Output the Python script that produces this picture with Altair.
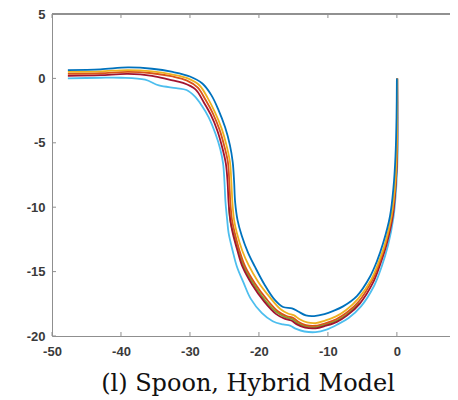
import altair as alt
import pandas as pd

# ---- data ----
x_ticks = [-50, -40, -30, -20, -10, 0]
y_ticks = [-20, -15, -10, -5, 0, 5]

light_blue = [(-47.7, 0.0), (-43.0, 0.05), (-40.0, 0.05), (-36.5, -0.1), (-34.5, -0.55),
              (-32.0, -0.75), (-30.5, -0.9), (-29.3, -1.4), (-28.3, -2.1), (-27.3, -3.0),
              (-26.3, -4.3), (-25.6, -5.5), (-25.2, -6.6), (-25.0, -8.0), (-24.85, -9.6),
              (-24.6, -11.0), (-24.4, -12.0), (-23.8, -13.4), (-23.2, -14.6), (-22.2, -15.9),
              (-21.2, -17.1), (-19.6, -18.2), (-18.0, -18.85), (-16.5, -19.1), (-15.5, -19.2),
              (-14.6, -19.45), (-13.4, -19.65), (-11.8, -19.7), (-10.2, -19.5), (-8.6, -19.1),
              (-7.0, -18.6), (-5.2, -17.7), (-3.3, -16.1), (-2.2, -14.6), (-1.3, -13.0),
              (-0.5, -10.8), (-0.1, -8.5), (0.1, -6.0), (0.1, -3.0), (0.05, 0.0)]

green = [(-24.35, -10.0), (-24.1, -11.2), (-23.6, -12.2), (-22.9, -13.5), (-22.2, -14.6),
         (-20.8, -15.95), (-19.0, -17.3), (-17.3, -18.2), (-16.1, -18.55), (-15.1, -18.7),
         (-14.4, -19.0), (-13.2, -19.25), (-11.8, -19.3), (-10.3, -19.1), (-8.7, -18.8),
         (-7.2, -18.3), (-5.4, -17.4)]

red = [(-47.7, 0.2), (-43.0, 0.25), (-39.0, 0.35), (-35.5, 0.2), (-33.0, -0.1),
       (-31.0, -0.35), (-29.2, -0.85), (-28.0, -1.85), (-27.0, -2.8), (-26.0, -4.1),
       (-25.3, -5.4), (-24.8, -6.6), (-24.55, -8.0), (-24.4, -9.6), (-24.15, -11.0),
       (-23.8, -12.0), (-23.1, -13.4), (-22.4, -14.6), (-21.0, -16.0), (-19.2, -17.35),
       (-17.5, -18.3), (-16.3, -18.65), (-15.3, -18.8), (-14.5, -19.1), (-13.3, -19.35),
       (-11.8, -19.4), (-10.3, -19.2), (-8.7, -18.9), (-7.2, -18.4), (-5.4, -17.5),
       (-3.5, -15.9), (-2.4, -14.4), (-1.5, -12.9), (-0.6, -10.7), (-0.2, -8.5),
       (0.03, -6.0), (0.07, -3.0), (0.05, 0.0)]

orange = [(-47.7, 0.35), (-43.0, 0.4), (-39.0, 0.5), (-35.5, 0.4), (-32.5, 0.15),
          (-30.5, -0.15), (-28.9, -0.7), (-27.7, -1.7), (-26.7, -2.7), (-25.7, -4.0),
          (-25.0, -5.3), (-24.5, -6.5), (-24.3, -8.0), (-24.15, -9.6), (-23.9, -11.0),
          (-23.5, -12.0), (-22.8, -13.4), (-22.0, -14.6), (-20.6, -15.9), (-18.8, -17.2),
          (-17.2, -18.1), (-16.0, -18.45), (-15.0, -18.6), (-14.3, -18.9), (-13.2, -19.15),
          (-11.8, -19.2), (-10.3, -19.0), (-8.8, -18.7), (-7.3, -18.2), (-5.5, -17.3),
          (-3.6, -15.7), (-2.5, -14.3), (-1.6, -12.8), (-0.7, -10.7), (-0.25, -8.5),
          (0.0, -6.0), (0.05, -3.0), (0.05, 0.0)]

yellow = [(-47.7, 0.5), (-43.0, 0.55), (-39.0, 0.65), (-35.5, 0.55), (-32.5, 0.3),
          (-30.3, 0.0), (-28.6, -0.55), (-27.4, -1.55), (-26.4, -2.6), (-25.4, -3.9),
          (-24.7, -5.2), (-24.2, -6.5), (-24.0, -8.0), (-23.85, -9.6), (-23.6, -11.0),
          (-23.2, -12.0), (-22.4, -13.4), (-21.5, -14.5), (-20.1, -15.8), (-18.4, -17.0),
          (-16.9, -17.9), (-15.8, -18.25), (-14.9, -18.4), (-14.1, -18.7), (-13.0, -18.95),
          (-11.8, -19.0), (-10.4, -18.8), (-8.9, -18.5), (-7.4, -18.0), (-5.6, -17.1),
          (-3.7, -15.6), (-2.6, -14.2), (-1.7, -12.8), (-0.8, -10.7), (-0.3, -8.5),
          (-0.05, -6.0), (0.03, -3.0), (0.05, 0.0)]

blue = [(-47.7, 0.65), (-43.0, 0.7), (-39.0, 0.85), (-35.5, 0.75), (-32.5, 0.5),
        (-30.0, 0.15), (-28.2, -0.4), (-26.9, -1.3), (-25.9, -2.4), (-24.9, -3.8),
        (-24.2, -5.2), (-23.8, -6.5), (-23.6, -8.0), (-23.45, -9.6), (-23.1, -11.0),
        (-22.5, -12.2), (-21.6, -13.5), (-20.6, -14.6), (-19.2, -16.0), (-17.7, -17.2),
        (-16.5, -17.75), (-15.2, -17.85), (-14.3, -18.1), (-13.2, -18.4), (-12.0, -18.45),
        (-10.5, -18.3), (-9.2, -18.05), (-7.8, -17.7), (-5.8, -16.9), (-3.9, -15.4),
        (-2.9, -14.2), (-2.0, -12.8), (-1.0, -10.7), (-0.5, -8.5), (-0.2, -6.0),
        (-0.05, -3.0), (0.0, 0.0)]

series_names = ["light_blue", "green", "red", "orange", "yellow", "blue"]
series_colors = ["#4DBEEE", "#77AC30", "#A2142F", "#D95319", "#EDB120", "#0072BD"]
series_data = [light_blue, green, red, orange, yellow, blue]

rows = []
for name, pts in zip(series_names, series_data):
    for i, (x, y) in enumerate(pts):
        rows.append({"series": name, "i": i, "x": x, "y": y})
df = pd.DataFrame(rows)

W, H = 398, 322
AXC = "#8f8f8f"
LABC = "#3a3a3a"

xscale = alt.Scale(domain=[-50, 7.7], nice=False, zero=False)
yscale = alt.Scale(domain=[-20, 5], nice=False, zero=False)

xaxis = alt.Axis(values=x_ticks, ticks=False, grid=False, title=None, domainColor=AXC,
                 labelFont="Liberation Sans", labelFontSize=13, labelFontWeight="bold",
                 labelColor=LABC, labelPadding=9, labelFlush=False,
                 labelExpr="toString(datum.value)")
yaxis = alt.Axis(values=y_ticks, ticks=False, grid=False, title=None, domainColor=AXC,
                 labelFont="Liberation Sans", labelFontSize=13, labelFontWeight="bold",
                 labelColor=LABC, labelPadding=7, labelFlush=False,
                 labelExpr="toString(datum.value)")

lines = alt.Chart(df).mark_line(strokeWidth=1.8, clip=True, interpolate="catmull-rom").encode(
    x=alt.X("x:Q", scale=xscale, axis=xaxis),
    y=alt.Y("y:Q", scale=yscale, axis=yaxis),
    color=alt.Color("series:N", scale=alt.Scale(domain=series_names, range=series_colors), legend=None),
    order=alt.Order("i:Q"),
    detail="series:N",
)

xt = pd.DataFrame({"t": x_ticks})
yt = pd.DataFrame({"t": y_ticks})

bottom_ticks = alt.Chart(xt).mark_rule(color=AXC, strokeWidth=1).encode(
    x=alt.X("t:Q", scale=xscale), y=alt.value(H), y2=alt.value(H - 4))
top_ticks = alt.Chart(xt).mark_rule(color=AXC, strokeWidth=1).encode(
    x=alt.X("t:Q", scale=xscale), y=alt.value(0), y2=alt.value(4))
left_ticks = alt.Chart(yt).mark_rule(color=AXC, strokeWidth=1).encode(
    y=alt.Y("t:Q", scale=yscale), x=alt.value(0), x2=alt.value(4))
top_border = alt.Chart(xt).mark_rule(color=AXC, strokeWidth=1).encode(
    x=alt.value(0), x2=alt.value(W), y=alt.value(0))

chart = alt.layer(bottom_ticks, top_ticks, left_ticks, top_border, lines).properties(
    width=W, height=H,
    padding={"left": 44, "top": 6, "right": 0, "bottom": 64},
    autosize=alt.AutoSizeParams(type="none"),
    title=alt.TitleParams("(l) Spoon, Hybrid Model", orient="bottom", anchor="middle",
                          font="DejaVu Serif", fontSize=24, fontWeight="normal",
                          color="#111111", offset=14, dx=-3),
).configure_view(stroke=None)

chart.save("out.html", embed_options={"renderer": "svg", "actions": False})
